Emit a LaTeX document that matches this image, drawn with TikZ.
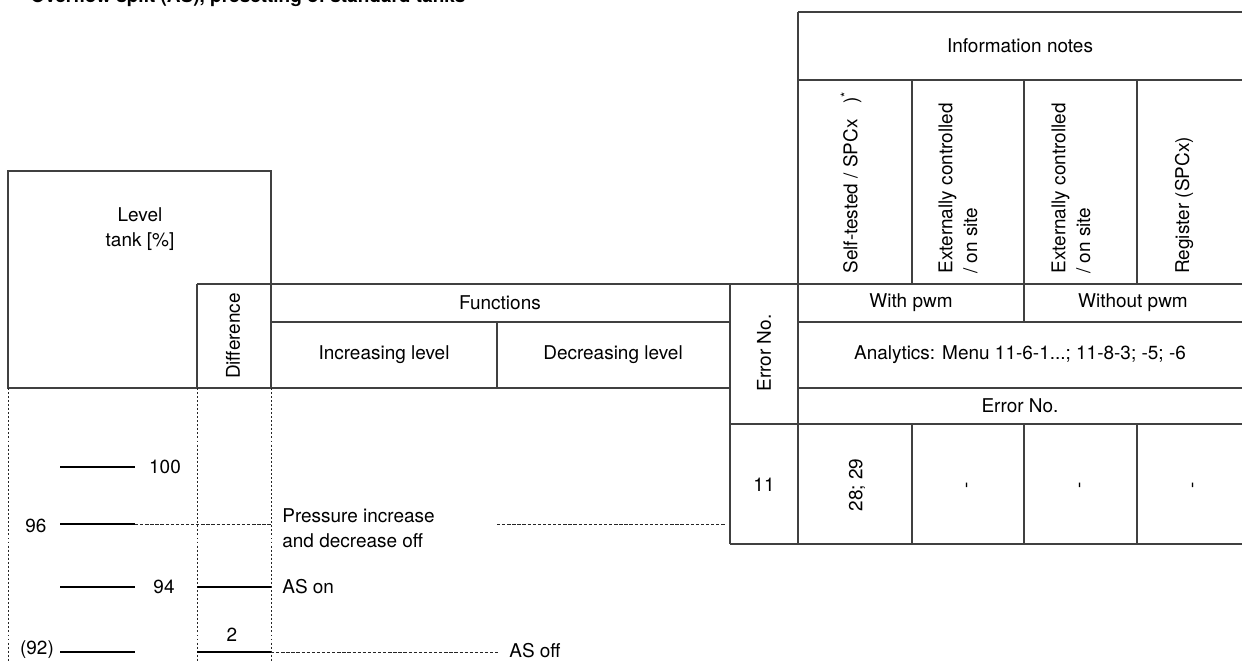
\documentclass[tikz,border=0pt]{standalone}
\usepackage{fontspec}
\setmainfont{TeX Gyre Heros}
\usepackage{xcolor}
\colorlet{colorGrid}{black!75}
\colorlet{colorMark}{black}
\colorlet{colorGuide}{black!85}
\usepackage{tikz}
\usetikzlibrary{positioning}
\tikzset{
  grid/.style={draw=colorGrid, line width=0.6pt},
  levelmark/.style={colorMark, line width=1.15pt},
  guide/.style={colorGuide, line width=0.45pt, dash pattern=on 1.9pt off 1pt},
  rule/.style={colorGuide, line width=0.45pt, dash pattern=on 1.1pt off 1.2pt},
  txt/.style={font=\fontsize{10.8}{14.2}\selectfont, inner sep=0pt, align=center},
  vtxt/.style={txt, rotate=90},
}

\begin{document}
\begin{tikzpicture}[x=0.02cm, y=-0.02cm]
\useasboundingbox (0,0) rectangle (1242,662);
\node[anchor=base west, inner sep=0pt, font=\bfseries\fontsize{10.8}{12}\selectfont] (title) at (30,3) {Overflow split (AS), presetting of standard tanks};
% table frame
\draw[grid] (8,171) rectangle (271,388);
\draw[grid] (798,12) -- (1242,12);
\draw[grid] (798,80) -- (1242,80);
\draw[grid] (798,12) -- (798,544);
\foreach \x in {912,1024,1137} \draw[grid] (\x,80) -- (\x,284);
\draw[grid] (197,284) -- (1242,284);
\draw[grid] (197,284) -- (197,388);
\draw[grid] (271,322) -- (730,322);
\draw[grid] (798,322) -- (1242,322);
\draw[grid] (497,322) -- (497,388);
\draw[grid] (1024,284) -- (1024,322);
\draw[grid] (730,284) -- (730,544);
\draw[grid] (271,388) -- (730,388);
\draw[grid] (798,388) -- (1242,388);
\draw[grid] (730,424) -- (1242,424);
\draw[grid] (730,544) -- (1242,544);
\foreach \x in {912,1024,1137} \draw[grid] (\x,424) -- (\x,544);
\foreach \x in {8,197,271} \draw[rule] (\x,388) -- (\x,662);
% headers
\node[txt] (notes) at (1020,46) {Information notes};
\node[vtxt, anchor=west] (selftest) at (851,274) {Self-tested / SPCx~~~)\textsuperscript{*}};
\node[vtxt, anchor=west, align=left] (extA) at (958,274) {Externally controlled\\/ on site};
\node[vtxt, anchor=west, align=left] (extB) at (1071,274) {Externally controlled\\/ on site};
\node[vtxt, anchor=west] (register) at (1184,274) {Register (SPCx)};
\node[txt] (level) at (140,229) {Level\\tank [\%]};
\node[vtxt] (diff) at (233,336) {Difference};
\node[txt] (functions) at (500,303) {Functions};
\node[txt] (incr) at (384,355) {Increasing level};
\node[txt] (decr) at (613,355) {Decreasing level};
\node[vtxt] (errcol) at (764,353) {Error No.};
\node[txt] (withpwm) at (911,303) {With pwm};
\node[txt] (withoutpwm) at (1133,303) {Without pwm};
\node[txt] (analytics) at (1020,355) {Analytics: Menu 11-6-1...; 11-8-3; -5; -6};
\node[txt] (errrow) at (1020,406) {Error No.};
% data row
\node[txt] (err11) at (764,485) {11};
\node[vtxt] (e2829) at (857,485) {28; 29};
\node[vtxt] (eA) at (969,485) {-};
\node[vtxt] (eB) at (1082,485) {-};
\node[vtxt] (eC) at (1195,485) {-};
% levels
\node[txt] (l100) at (165,467) {100};
\node[txt] (l96) at (36,526) {96};
\node[txt] (l94) at (164,587) {94};
\node[txt] (l92) at (37,650) {(92)};
\node[txt] (d2) at (232,635) {2};
\node[txt, anchor=west, align=left] (press) at (282,528) {Pressure increase\\and decrease off};
\node[txt, anchor=west] (ason) at (282,587) {AS on};
\node[txt, anchor=west] (asoff) at (509,651) {AS off};
\coordinate (m100a) at (60,467);
\coordinate (m100b) at (135,467);
\coordinate (m96a) at (60,524);
\coordinate (m96b) at (135,524);
\coordinate (m94a) at (60,587);
\coordinate (m94b) at (135,587);
\coordinate (m92a) at (60,652);
\coordinate (m92b) at (135,652);
\coordinate (d94a) at (197,587);
\coordinate (d94b) at (271,587);
\coordinate (d92a) at (197,652);
\coordinate (d92b) at (271,652);
\coordinate (g96) at (271,524);
\coordinate (p96a) at (497,524);
\coordinate (p96b) at (725,524);
\coordinate (g92) at (498,652);
\draw[levelmark] (m100a) -- (m100b);
\draw[levelmark] (m96a) -- (m96b);
\draw[levelmark] (m94a) -- (m94b);
\draw[levelmark] (m92a) -- (m92b);
\draw[levelmark] (d94a) -- (d94b);
\draw[levelmark] (d92a) -- (d92b);
\draw[guide] (m96b) -- (g96);
\draw[guide] (p96a) -- (p96b);
\draw[guide] (d92b) -- (g92);
\end{tikzpicture}
\end{document}
